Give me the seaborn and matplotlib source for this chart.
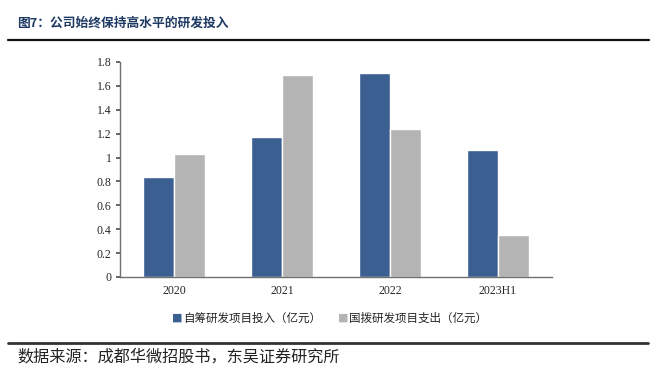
import matplotlib
matplotlib.use("Agg")
import matplotlib.pyplot as plt
import seaborn as sns
import pandas as pd

years = ["2020", "2021", "2022", "2023H1"]
self_funded = [0.84, 1.17, 1.71, 1.06]
state_funded = [1.03, 1.69, 1.24, 0.35]
series_names = ["自筹研发项目投入（亿元）", "国拨研发项目支出（亿元）"]
y_ticks = [0, 0.2, 0.4, 0.6, 0.8, 1, 1.2, 1.4, 1.6, 1.8]

df = pd.DataFrame({
    "year": years * 2,
    "value": self_funded + state_funded,
    "series": [series_names[0]] * len(years) + [series_names[1]] * len(years),
})

sns.set_theme(style="white")
cjk = ["Noto Sans CJK SC", "DejaVu Sans"]
serif = ["Liberation Serif", "DejaVu Serif"]
plt.rcParams["font.family"] = cjk

fig = plt.figure(figsize=(6.54, 3.71), dpi=100)
ax = fig.add_axes([0.1835, 0.2534, 0.6605, 0.5795])

palette = {series_names[0]: "#3A5F90", series_names[1]: "#B4B4B4"}
sns.barplot(data=df, x="year", y="value", hue="series", palette=palette,
            width=0.58, ax=ax, saturation=1, legend=False)

ax.set_xlim(-0.5, 3.5)
ax.set_ylim(0, 1.8)
ax.set_yticks(y_ticks)
ax.set_yticklabels([f"{t:g}" for t in y_ticks], family=serif, fontsize=8.5)
ax.set_xticks(range(len(years)))
ax.set_xticklabels(years, family=serif, fontsize=8.5)
ax.set_xticks([-0.5, 0.5, 1.5, 2.5, 3.5], minor=True)
ax.tick_params(axis="x", which="major", length=0, pad=6)
ax.tick_params(axis="x", which="minor", length=3, color="#555555", direction="out")
ax.tick_params(axis="y", length=3, color="#555555", direction="out", pad=3, left=True)
ax.set_xlabel("")
ax.set_ylabel("")
for s in ["top", "right"]:
    ax.spines[s].set_visible(False)
for s in ["left", "bottom"]:
    ax.spines[s].set_color("#707070")
    ax.spines[s].set_linewidth(1.0)

# legend
for i, name in enumerate(series_names):
    x0 = [177 / 654, 343 / 654][i]
    fig.text(x0, 1 - 318 / 371, "■", color=palette[name], fontsize=8,
             ha="center", va="center", family=["DejaVu Sans"])
    fig.text(x0 + 6 / 654, 1 - 318 / 371, name, fontsize=8.3, ha="left",
             va="center", color="#222222")

# title and frame lines
fig.text(17 / 654, 1 - 23 / 371, "图7：公司始终保持高水平的研发投入", fontsize=9.2,
         fontweight="bold", color="#1F3B64", ha="left", va="center")
fig.add_artist(plt.Line2D([8 / 654, 649 / 654], [1 - 39.5 / 371] * 2,
                          color="#111111", lw=1.6, transform=fig.transFigure))
fig.add_artist(plt.Line2D([8 / 654, 648 / 654], [1 - 343 / 371] * 2,
                          color="#333333", lw=2.0, transform=fig.transFigure))
fig.text(17 / 654, 1 - 357 / 371, "数据来源：成都华微招股书，东吴证券研究所",
         fontsize=11.6, color="#222222", ha="left", va="center")

fig.savefig("out.png", dpi=100)
plt.close(fig)
